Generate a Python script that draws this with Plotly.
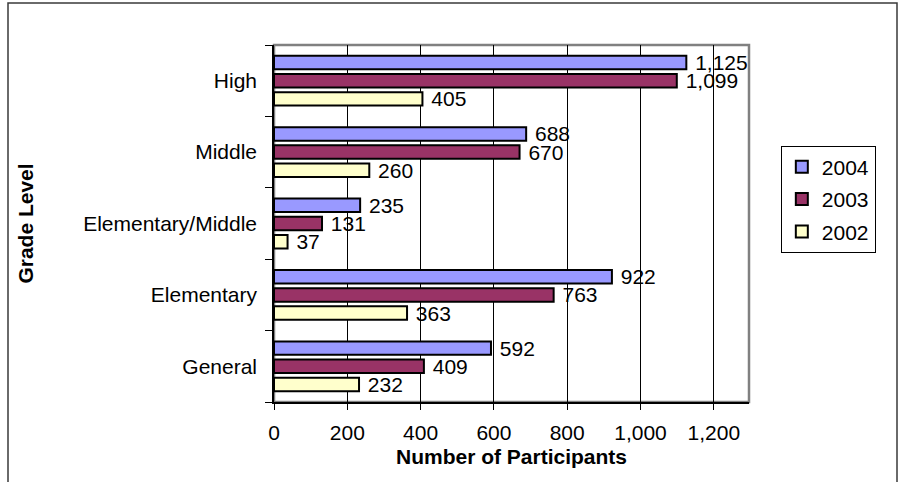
import plotly.graph_objects as go

# Grade levels, bottom to top on the category axis
grade_levels = ["General", "Elementary", "Elementary/Middle", "Middle", "High"]

# Participants per year, in the same order as grade_levels
participants_2004 = [592, 922, 235, 688, 1125]
participants_2003 = [409, 763, 131, 670, 1099]
participants_2002 = [232, 363, 37, 260, 405]

x_ticks = [0, 200, 400, 600, 800, 1000, 1200]
x_tick_labels = ["0", "200", "400", "600", "800", "1,000", "1,200"]

FONT = "Liberation Sans, Arial, sans-serif"

# (name, values, fill colour, legend rank); bars stack upward within a group
series = [
    ("2002", participants_2002, "#FFFFCC", 3),
    ("2003", participants_2003, "#993366", 2),
    ("2004", participants_2004, "#9999FF", 1),
]

fig = go.Figure()
for name, values, color, rank in series:
    fig.add_trace(go.Bar(
        name=name,
        legendgroup=name,
        legendrank=rank,
        y=grade_levels,
        x=values,
        orientation="h",
        marker=dict(color=color, line=dict(color="#000000", width=2)),
        texttemplate="\u00a0%{x:,}",
        textposition="outside",
        textfont=dict(family=FONT, size=21, color="#000000"),
        constraintext="none",
        cliponaxis=False,
        hoverinfo="skip",
    ))

fig.update_layout(
    width=906,
    height=482,
    margin=dict(l=274, r=157, t=45, b=80),
    paper_bgcolor="#FFFFFF",
    plot_bgcolor="#FFFFFF",
    barmode="group",
    bargap=0.236,
    bargroupgap=0.26,
    font=dict(family=FONT, size=21, color="#000000"),
    showlegend=True,
    legend=dict(
        x=1.067, xanchor="left",
        y=0.718, yanchor="top",
        traceorder="grouped",
        tracegroupgap=2,
        itemwidth=30,
        bgcolor="#FFFFFF",
        bordercolor="#000000",
        borderwidth=1,
        font=dict(family=FONT, size=21, color="#000000"),
    ),
    xaxis=dict(
        range=[0, 1296],
        tickmode="array",
        tickvals=x_ticks,
        ticktext=x_tick_labels,
        showgrid=True,
        gridcolor="#000000",
        gridwidth=1,
        zeroline=False,
        showline=True,
        linecolor="#000000",
        linewidth=1.5,
        ticks="outside",
        ticklen=6,
        tickcolor="#000000",
        tickfont=dict(family=FONT, size=21),
        ticklabelstandoff=5,
        title=dict(text="<b>Number of Participants</b>",
                   font=dict(family=FONT, size=21), standoff=6),
    ),
    yaxis=dict(
        type="category",
        categoryorder="array",
        categoryarray=grade_levels,
        showgrid=False,
        zeroline=False,
        showline=True,
        linecolor="#000000",
        linewidth=1.5,
        ticks="outside",
        tickson="boundaries",
        ticklen=7,
        tickcolor="#000000",
        tickfont=dict(family=FONT, size=21),
        ticklabelstandoff=11,
        title=dict(text="<b>Grade Level</b>",
                   font=dict(family=FONT, size=21), standoff=44),
    ),
    shapes=[
        # gray frame of the plotting area
        dict(type="rect", xref="paper", yref="paper", x0=0, x1=1, y0=0, y1=1,
             line=dict(color="#808080", width=2.5), layer="below"),
        # outer chart border
        dict(type="rect", xref="paper", yref="paper",
             x0=(8 - 274) / 475, x1=(897 - 274) / 475,
             y0=(402 - 520) / 357, y1=(402 - 3) / 357,
             line=dict(color="#3a3a3a", width=1.5), layer="below"),
    ],
)

fig.write_html("out.html")
